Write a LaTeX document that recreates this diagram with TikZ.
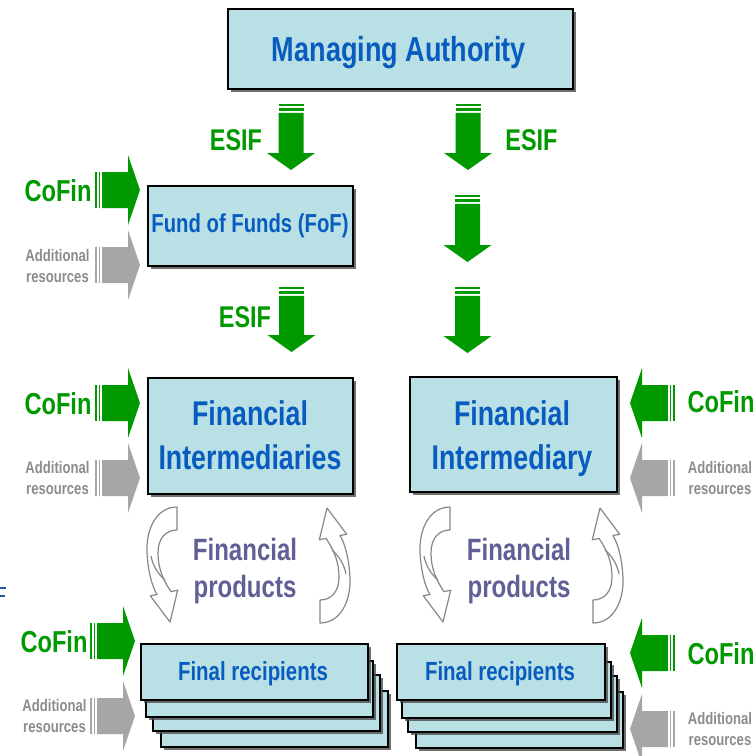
\documentclass[tikz,border=0pt]{standalone}
\usepackage{fontspec}
\newfontfamily\nf{Liberation Sans}[FakeStretch=0.78]
\usetikzlibrary{shadows}
\definecolor{boxfill}{RGB}{185,224,228}
\definecolor{txtblue}{RGB}{8,92,192}
\definecolor{grn}{RGB}{0,153,0}
\definecolor{garr}{RGB}{166,166,166}
\definecolor{gtxt}{RGB}{140,140,140}
\definecolor{ptxt}{RGB}{96,96,150}
\definecolor{curv}{RGB}{135,135,135}
\definecolor{fragblue}{RGB}{30,90,160}
\newcommand\fsz[2]{\fontsize{#1}{#2}\selectfont}
% down arrow: cx, ytop, ytip
\newcommand\esifarr[3]{%
  \fill[grn] (#1-12.5,#2) rectangle (#1+12.5,#2+2.2);
  \fill[grn] (#1-12.5,#2+4.4) rectangle (#1+12.5,#2+6.6);
  \fill[grn] (#1-12.5,#2+8.8) -- (#1+12.5,#2+8.8) -- (#1+12.5,#3-17) -- (#1+24,#3-17)
    -- (#1,#3) -- (#1-24,#3-17) -- (#1-12.5,#3-17) -- cycle;}
% right-pointing arrow: colour, xstart, xtip, cy
\newcommand\rarr[4]{%
  \fill[#1] (#2,#4-18) rectangle (#2+1.8,#4+18);
  \fill[#1] (#2+3.6,#4-18) rectangle (#2+5.4,#4+18);
  \fill[#1] (#2+7.2,#4-18) -- (#3-12,#4-18) -- (#3-12,#4-35) -- (#3,#4)
    -- (#3-12,#4+35) -- (#3-12,#4+18) -- (#2+7.2,#4+18) -- cycle;}
% left-pointing arrow: colour, xtip, xend, cy
\newcommand\larr[4]{%
  \fill[#1] (#3,#4-18) rectangle (#3-1.8,#4+18);
  \fill[#1] (#3-3.6,#4-18) rectangle (#3-5.4,#4+18);
  \fill[#1] (#3-7.2,#4-18) -- (#2+12,#4-18) -- (#2+12,#4-35) -- (#2,#4)
    -- (#2+12,#4+35) -- (#2+12,#4+18) -- (#3-7.2,#4+18) -- cycle;}
% curved hollow arrow (left one of column 1)
\newcommand\cvshape{%
  \filldraw[fill=white, draw=curv, line width=1.2pt, line join=round]
    (177,507) .. controls (156,507) and (146,530) .. (147,552)
    .. controls (148,572) and (152,586) .. (157,594.5)
    -- (150.3,595.8) -- (170,622) -- (177.7,590.2) -- (171,591.6)
    .. controls (163,580) and (158,568) .. (158,553)
    .. controls (158,538) and (166,530) .. (177,530) -- cycle;
  \draw[curv, line width=1.2pt] (151,556) .. controls (153,566) and (158,574) .. (165,580);}
\begin{document}
\begin{tikzpicture}[x=1pt,y=-1pt,
  bx/.style={draw=black, line width=1.6pt, fill=boxfill, inner sep=0pt, anchor=north west,
    drop shadow={shadow xshift=3pt, shadow yshift=-3pt, fill=black!70, opacity=0.8}},
  lbl/.style={inner sep=0pt, anchor=base, align=center, font=\nf\bfseries},
]
\useasboundingbox (0,0) rectangle (755,756);
\fill[white] (0,0) rectangle (755,756);

% boxes
\node[bx, minimum width=345pt, minimum height=80pt] (ma) at (227,8) {};
\node[bx, minimum width=205pt, minimum height=80pt] (fof) at (147,185) {};
\node[bx, minimum width=205pt, minimum height=116pt] (fil) at (147,377) {};
\node[bx, minimum width=207pt, minimum height=115pt] (fir) at (409,376) {};
% stacks
\node[bx, minimum width=227pt, minimum height=56pt] (frl4) at (160,690) {};
\node[bx, minimum width=227pt, minimum height=56pt] (frl3) at (152,674) {};
\node[bx, minimum width=227pt, minimum height=56pt] (frl2) at (145,660) {};
\node[bx, minimum width=227pt, minimum height=56pt] (frl1) at (140,643) {};
\node[bx, minimum width=207pt, minimum height=56pt] (frr4) at (415,691) {};
\node[bx, minimum width=209pt, minimum height=56pt] (frr3) at (407,675) {};
\node[bx, minimum width=209pt, minimum height=56pt] (frr2) at (401,661) {};
\node[bx, minimum width=208pt, minimum height=56pt] (frr1) at (396,643) {};

% box texts
\node[lbl, text=txtblue, font=\nf\bfseries\fsz{34.7}{43}] (tma) at (399,61) {Managing Authority};
\node[lbl, text=txtblue, font=\nf\bfseries\fsz{26}{30}] (tfof) at (250,232) {Fund of Funds (FoF)};
\node[lbl, text=txtblue, font=\nf\bfseries\fsz{34.3}{44}] (tfil) at (250,469) {Financial\\Intermediaries};
\node[lbl, text=txtblue, font=\nf\bfseries\fsz{34.3}{44}] (tfir) at (512,469) {Financial\\Intermediary};
\node[lbl, text=txtblue, font=\nf\bfseries\fsz{26.2}{30}] (tfrl) at (253,680) {Final recipients};
\node[lbl, text=txtblue, font=\nf\bfseries\fsz{26.2}{30}] (tfrr) at (500,680) {Final recipients};

% down arrows
\esifarr{291}{104}{170}
\esifarr{468}{104}{170}
\esifarr{467.5}{195}{262}
\esifarr{291.5}{287}{352}
\esifarr{467.5}{287}{353}
\node[lbl, text=grn, font=\nf\bfseries\fsz{30}{30}] (e1) at (236,150) {ESIF};
\node[lbl, text=grn, font=\nf\bfseries\fsz{30}{30}] (e2) at (531.5,150) {ESIF};
\node[lbl, text=grn, font=\nf\bfseries\fsz{30}{30}] (e3) at (245,327) {ESIF};

% side arrows left
\rarr{grn}{95}{140}{190}
\rarr{garr}{95}{140}{265}
\rarr{grn}{95}{140}{403}
\rarr{garr}{95}{140}{478}
\rarr{grn}{90}{135}{641}
\rarr{garr}{90}{135}{716}
% side arrows right
\larr{grn}{630}{675}{403}
\larr{garr}{630}{675}{478}
\larr{grn}{630}{675}{653}
\larr{garr}{630}{675}{729}

% side texts
\node[lbl, text=grn, font=\nf\bfseries\fsz{30.3}{30}] (c1) at (58,201) {CoFin};
\node[lbl, text=grn, font=\nf\bfseries\fsz{30.3}{30}] (c2) at (58,414) {CoFin};
\node[lbl, text=grn, font=\nf\bfseries\fsz{30.3}{30}] (c3) at (54,652) {CoFin};
\node[lbl, text=grn, font=\nf\bfseries\fsz{30.3}{30}] (c4) at (721,412) {CoFin};
\node[lbl, text=grn, font=\nf\bfseries\fsz{30.3}{30}] (c5) at (721,664) {CoFin};
\node[lbl, text=gtxt, font=\nf\bfseries\fsz{16.8}{21}] (a1) at (57.5,282) {Additional\\resources};
\node[lbl, text=gtxt, font=\nf\bfseries\fsz{16.8}{21}] (a2) at (57.5,494) {Additional\\resources};
\node[lbl, text=gtxt, font=\nf\bfseries\fsz{16.8}{21}] (a3) at (54.5,732) {Additional\\resources};
\node[lbl, text=gtxt, font=\nf\bfseries\fsz{16.8}{21}] (a4) at (720,494) {Additional\\resources};
\node[lbl, text=gtxt, font=\nf\bfseries\fsz{16.8}{21}] (a5) at (720,745) {Additional\\resources};

% curved arrows
\cvshape
\begin{scope}[rotate around={180:(248.5,565)}]\cvshape\end{scope}
\begin{scope}[shift={(273,0)}]
  \cvshape
  \begin{scope}[rotate around={180:(248.5,565)}]\cvshape\end{scope}
\end{scope}
\node[lbl, text=ptxt, font=\nf\bfseries\fsz{30.8}{37}] (fp1) at (245,597) {Financial\\products};
\node[lbl, text=ptxt, font=\nf\bfseries\fsz{30.8}{37}] (fp2) at (519,597) {Financial\\products};

% fragment at the left edge
\fill[fragblue] (0,586.7) rectangle (6,589);
\fill[fragblue] (0,595) rectangle (5,597.3);
\end{tikzpicture}
\end{document}
